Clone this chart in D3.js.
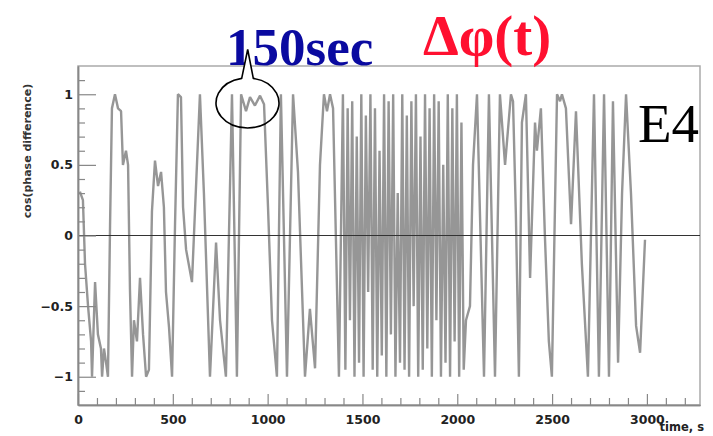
<!DOCTYPE html>
<html>
<head>
<meta charset="utf-8">
<script src="https://cdn.jsdelivr.net/npm/d3@7"></script>
<style>
  html, body { margin: 0; padding: 0; background: #fff; }
  svg { display: block; }
</style>
</head>
<body>
<svg id="chart" width="713" height="436"></svg>
<script>
// ---- data ----
const times = [
  10, 26, 37, 53, 69, 74, 90, 105, 121, 127, 137, 148, 158, 169, 179, 195, 211, 227, 237, 253,
  264, 274, 285, 295, 311, 327, 343, 359, 374, 390, 406, 422, 438, 453, 464, 480, 496, 512, 527, 543,
  554, 570, 601, 643, 664, 696, 728, 749, 780, 812, 838, 860, 886, 907, 933, 960, 981, 1002, 1023, 1049,
  1070, 1102, 1134, 1160, 1197, 1223, 1250, 1276, 1297, 1313, 1329, 1345, 1376, 1397,
  1410, 1422, 1434, 1446, 1458, 1470, 1482, 1494, 1506, 1518, 1530, 1542, 1554, 1566, 1578, 1590, 1602, 1614,
  1626, 1638, 1650, 1662, 1674, 1686, 1698, 1710, 1722, 1734, 1746, 1758, 1770, 1782, 1794, 1806, 1818, 1830,
  1842, 1854, 1866, 1878, 1890, 1902, 1914, 1926, 1938, 1950, 1962, 1974, 1986, 1998, 2010, 2022, 2034, 2046,
  2067, 2083, 2104, 2141, 2167, 2199, 2225, 2252, 2283, 2294, 2309, 2325, 2341, 2362, 2384, 2410, 2420, 2441,
  2462, 2483, 2499, 2526, 2542, 2552, 2573, 2600, 2626, 2657, 2689, 2721, 2747, 2774, 2800, 2821, 2848, 2869,
  2890, 2916, 2943, 2964, 2990];
const cosPhase = [
  0.31, 0.25, -0.2, -0.5, -0.75, -1.0, -0.33, -0.7, -0.8, -1.0, -0.8, -0.9, -1.0, 0.07, 0.9, 1.0, 0.9, 0.88, 0.5, 0.6,
  0.5, -0.38, -1.0, -0.6, -0.75, -0.3, -0.7, -1.0, -0.95, 0.17, 0.53, 0.35, 0.45, 0.2, -0.4, -0.65, -1.0, 0.1, 1.0, 0.98,
  0.2, -0.1, -0.33, 1.0, 0.3, -1.0, -0.05, -0.6, -1.0, 1.0, -1.0, 1.0, 0.88, 0.98, 0.92, 0.99, 0.93, 0.2, -0.6, -1.0,
  1.0, -1.0, 1.0, 0.45, -1.0, -0.52, -0.94, 0.5, 1.0, 0.88, 1.0, 0.9, -1.0, 1.0,
  -0.95, 0.9, -0.6, 0.95, -1.0, 0.7, -0.9, 1.0, -1.0, 0.85, -0.4, 1.0, -0.95, 0.9, -1.0, 0.6, -0.85, 1.0,
  -1.0, 0.95, -0.7, 1.0, -1.0, 0.3, -0.9, 1.0, -0.95, 0.85, -1.0, 0.95, -0.5, 1.0, -1.0, 0.7, -0.95, 1.0,
  -0.8, 0.9, -1.0, 1.0, -0.6, 0.95, -1.0, 0.5, -0.9, 1.0, -1.0, 0.9, -0.75, 1.0, -1.0, 0.8, -0.95, -0.6,
  -0.5, 0.5, 1.0, -1.0, 1.0, -1.0, 1.0, 0.5, 1.0, 0.95, 0.15, -1.0, 0.8, 1.0, -0.3, 0.8, 0.6, 0.9,
  0.0, -0.75, -1.0, 1.0, 0.95, 1.0, 0.9, 0.08, 0.88, -0.2, -1.0, 1.0, -1.0, 1.0, -1.0, 0.95, -0.9, 0.3,
  1.0, 0.3, -0.64, -0.83, -0.03];
const xMajorTicks = [0, 500, 1000, 1500, 2000, 2500, 3000];
const yMajorTicks = [-1, -0.5, 0, 0.5, 1];
const yMinorTicks = [-1.1, -0.9, -0.8, -0.7, -0.6, -0.4, -0.3, -0.2, -0.1, 0.1, 0.2, 0.3, 0.4, 0.6, 0.7, 0.8, 0.9, 1.1];
const xMinorTicks = [100, 200, 300, 400, 600, 700, 800, 900, 1100, 1200, 1300, 1400, 1600, 1700, 1800, 1900,
  2100, 2200, 2300, 2400, 2600, 2700, 2800, 2900, 3100, 3200];
const yTitle = "cos(phase difference)";
const xTitle = "time, s";

// ---- layout ----
const svg = d3.select("#chart");
const L = 78, R = 700, T = 66, B = 405;
const x = d3.scaleLinear().domain([0, 3280]).range([L, R]);
const y = d3.scaleLinear().domain([-1.2, 1.2]).range([B, T]);

svg.append("rect").attr("width", 713).attr("height", 436).attr("fill", "#fff");

const n = Math.min(times.length, cosPhase.length);
const pts = d3.range(n).map(i => [times[i], cosPhase[i]]);

// data line
const line = d3.line().x(d => x(d[0])).y(d => y(d[1]));
svg.append("path")
  .datum(pts)
  .attr("d", line)
  .attr("fill", "none")
  .attr("stroke", "#969696")
  .attr("stroke-width", 2.4)
  .attr("stroke-linejoin", "bevel");

// frame
svg.append("rect").attr("x", L).attr("y", T).attr("width", R - L).attr("height", B - T)
  .attr("fill", "none").attr("stroke", "#aaa").attr("stroke-width", 1.5);

// zero line
svg.append("line").attr("x1", L).attr("x2", R).attr("y1", y(0)).attr("y2", y(0))
  .attr("stroke", "#333").attr("stroke-width", 1);

// y axis
const yAxis = svg.append("g").attr("transform", `translate(${L},0)`)
  .call(d3.axisLeft(y).tickValues(yMajorTicks).tickSizeInner(-18).tickSizeOuter(0).tickPadding(5)
    .tickFormat(d => d === 0 ? "0" : String(d).replace("-", "\u2212")));
const yMinor = svg.append("g").attr("transform", `translate(${L},0)`)
  .call(d3.axisLeft(y).tickValues(yMinorTicks).tickSizeInner(-7).tickSizeOuter(0).tickFormat(""));

// x axis
const xAxis = svg.append("g").attr("transform", `translate(0,${B})`)
  .call(d3.axisBottom(x).tickValues(xMajorTicks).tickSizeInner(-11).tickSizeOuter(0).tickPadding(10)
    .tickFormat(d3.format("d")));
const xMinor = svg.append("g").attr("transform", `translate(0,${B})`)
  .call(d3.axisBottom(x).tickValues(xMinorTicks).tickSizeInner(-7).tickSizeOuter(0).tickFormat(""));

[yAxis, yMinor, xAxis, xMinor].forEach(g => {
  g.select(".domain").attr("stroke", "#888").attr("stroke-width", 1.5);
  g.selectAll(".tick line").attr("stroke", "#888").attr("stroke-width", 1.2);
  g.selectAll(".tick text").attr("fill", "#222")
    .style("font-family", "'DejaVu Sans', sans-serif").style("font-weight", "bold").style("font-size", "12.5px");
});

// axis titles
svg.append("text").attr("transform", "translate(31,151) rotate(-90)")
  .attr("text-anchor", "middle")
  .style("font-family", "'DejaVu Sans', sans-serif").style("font-weight", "bold").style("font-size", "11px")
  .attr("fill", "#333").text(yTitle);
svg.append("text").attr("x", 704).attr("y", 431).attr("text-anchor", "end")
  .style("font-family", "'DejaVu Sans', sans-serif").style("font-weight", "bold").style("font-size", "11.5px")
  .attr("fill", "#222").text(xTitle);

// annotations
svg.append("text").attr("x", 226).attr("y", 65)
  .style("font-family", "'Liberation Serif', 'Times New Roman', serif").style("font-weight", "bold").style("font-size", "53px")
  .attr("fill", "#0a0aa0").text("150sec");
svg.append("text").attr("x", 423).attr("y", 55)
  .style("font-family", "'Liberation Serif', 'Times New Roman', serif").style("font-weight", "bold").style("font-size", "57px")
  .attr("fill", "#ff1030").text("\u0394\u03c6(t)");
svg.append("text").attr("x", 638).attr("y", 142)
  .style("font-family", "'Liberation Serif', 'Times New Roman', serif").style("font-size", "55px")
  .attr("fill", "#000").text("E4");

// callout: ellipse with pointer
const rx = 31.5, ry = 25;
const bl = [241.7, 78.4], br = [253.3, 78.4], apex = [247.7, 49.5];
const callout = `M${br[0]},${br[1]} A${rx},${ry} 0 1 1 ${bl[0]},${bl[1]} L${apex[0]},${apex[1]} Z`;
svg.append("path").attr("d", `M${bl[0]},${bl[1]} L${apex[0]},${apex[1]} L${br[0]},${br[1]} Z`)
  .attr("fill", "#fff").attr("stroke", "none");
svg.append("path").attr("d", callout).attr("fill", "none").attr("stroke", "#000").attr("stroke-width", 1.6);
</script>
</body>
</html>
